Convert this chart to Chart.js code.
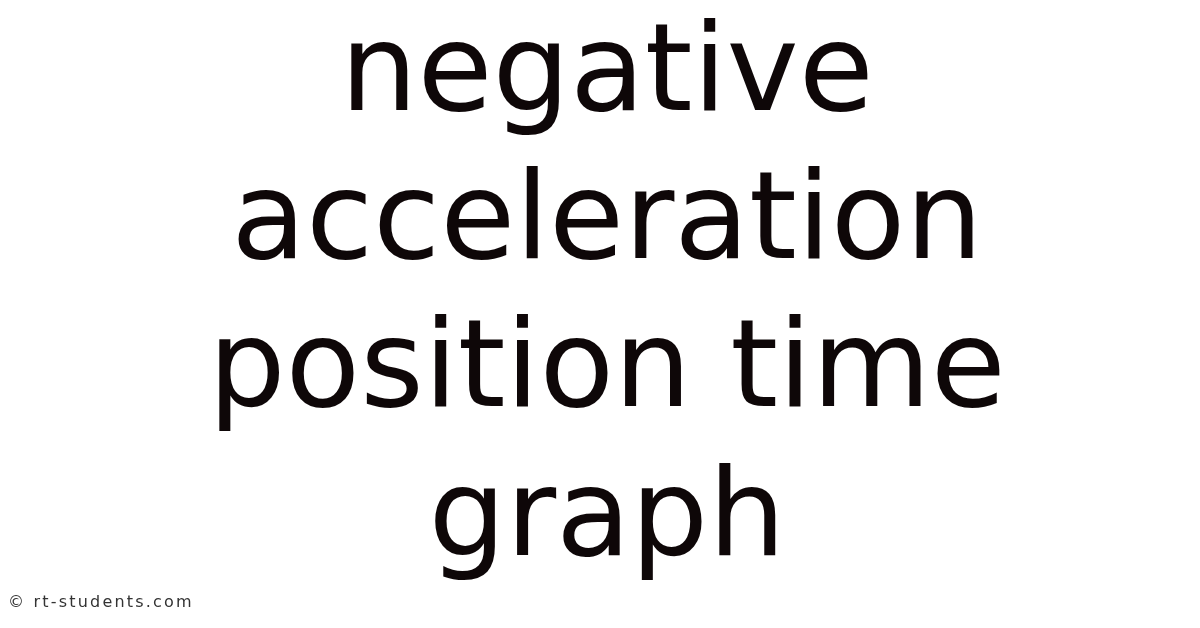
<!DOCTYPE html>
<html>
<head>
<meta charset="utf-8">
<script src="https://cdn.jsdelivr.net/npm/chart.js@4"></script>
<style>
  html, body { margin: 0; padding: 0; background: #ffffff; }
  #wrap { position: relative; width: 1200px; height: 628px; }
  #mark {
    position: absolute; left: 8px; top: 592px;
    font-family: "DejaVu Sans", sans-serif; font-size: 16px;
    letter-spacing: 2.2px; color: #333333;
  }
</style>
</head>
<body>
<div id="wrap">
  <canvas id="titleChart" width="1200" height="628"></canvas>
  <div id="mark">© rt-students.com</div>
</div>
<script>
// Text of the picture, one entry per line
const titleLines = ["negative", "acceleration", "position time", "graph"];
// No plotted values in this picture
const labels = [];
const values = [];

const ctx = document.getElementById("titleChart").getContext("2d");
new Chart(ctx, {
  type: "line",
  data: {
    labels: labels,
    datasets: [{ data: values }],
  },
  options: {
    responsive: false,
    animation: false,
    layout: { padding: { left: 14 } },
    scales: {
      x: { display: false },
      y: { display: false },
    },
    plugins: {
      legend: { display: false },
      tooltip: { enabled: false },
      title: {
        display: true,
        text: titleLines,
        color: "#0e0708",
        font: { family: "DejaVu Sans", size: 122, weight: "normal", lineHeight: 148.3 / 122 },
        padding: { top: 4, bottom: 0 },
      },
    },
  },
});
</script>
</body>
</html>
